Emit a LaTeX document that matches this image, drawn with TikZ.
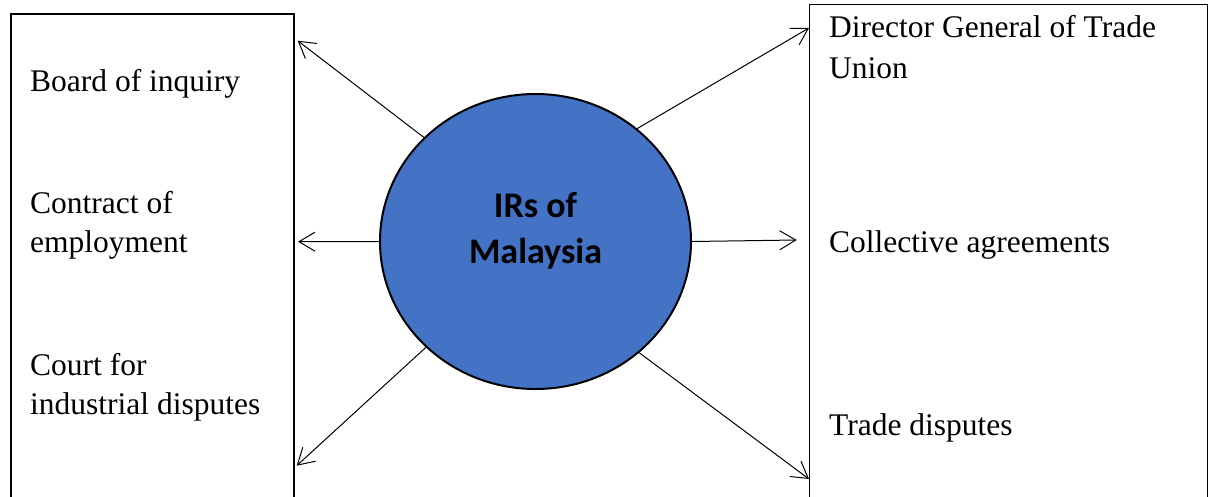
\documentclass[tikz,border=0pt]{standalone}
\usepackage{fontspec}
\setmainfont{Liberation Serif}
\newfontfamily\calibri{Carlito}
\usetikzlibrary{arrows.meta,shapes.geometric}
\definecolor{irblue}{HTML}{4472C4}
\begin{document}
\begin{tikzpicture}[x=1pt,y=-1pt,
  lbl/.style={anchor=base west, inner sep=0pt, align=left, font=\fontsize{31.5}{39}\selectfont},
  conn/.style={line width=1pt, -{Straight Barb[length=16pt,width=19pt]}}]
\useasboundingbox (0,0) rectangle (1212,496);
% boxes
\node[draw, line width=2.4pt, anchor=north west, minimum width=283.5pt, minimum height=510pt, inner sep=0pt] (L) at (9.5,12.5) {};
\node[draw, line width=1.2pt, anchor=north west, minimum width=398pt, minimum height=520pt, inner sep=0pt] (R) at (809,3.5) {};
% circle
\node[ellipse, draw, line width=2pt, fill=irblue, minimum width=311pt, minimum height=295pt, inner sep=0pt] (C) at (535.5,241.5) {};
\node[anchor=base, inner sep=0pt, font=\calibri\bfseries\fontsize{36}{46}\selectfont, align=center] (CT) at (535.5,263) {IRs of\\Malaysia};
% labels (base anchor = baseline of the last line)
\node[lbl] (t1) at (30,91) {Board of inquiry};
\node[lbl] (t2) at (30,252) {Contract of\\employment};
\node[lbl] (t3) at (30,414) {Court for\\industrial disputes};
\node[lbl, font=\fontsize{31.5}{41}\selectfont] (t4) at (829,78) {Director General of Trade\\Union};
\node[lbl] (t5) at (829,252) {Collective agreements};
\node[lbl] (t6) at (829,435) {Trade disputes};
% arrow ends
\coordinate (e1) at (297.7,40.7);
\coordinate (e2) at (298,241.7);
\coordinate (e3) at (296.7,465.7);
\coordinate (e4) at (809,28);
\coordinate (e5) at (796.7,240);
\coordinate (e6) at (809,479);
\draw[conn] (C.137.9) -- (e1);
\draw[conn] (C.180) -- (e2);
\draw[conn] (C.224.2) -- (e3);
\draw[conn] (C.48.7) -- (e4);
\draw[conn] (C.0) -- (e5);
\draw[conn] (C.313.6) -- (e6);
\end{tikzpicture}
\end{document}
